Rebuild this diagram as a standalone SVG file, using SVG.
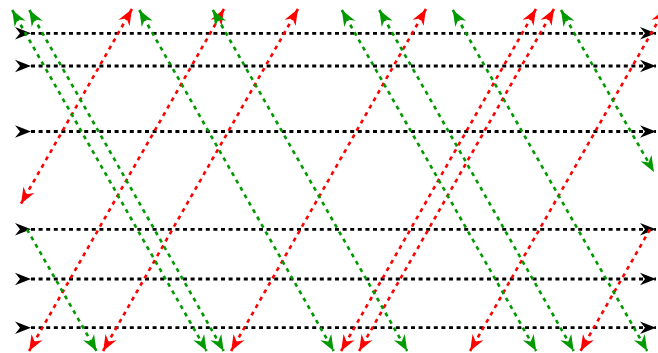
<svg xmlns="http://www.w3.org/2000/svg" width="658" height="353" viewBox="0 0 658 353">
<style>
.bk{stroke:#000;stroke-width:2.8;stroke-dasharray:4 3.6;fill:none;marker-start:url(#mb);marker-end:url(#mb)}
.rd{stroke:#ff0000;stroke-width:2.6;stroke-dasharray:4 4.5;fill:none;marker-end:url(#mr)}
.gn{stroke:#009900;stroke-width:2.6;stroke-dasharray:4 4.5;fill:none;marker-end:url(#mg)}
.both.rd{marker-start:url(#mr)}
.both.gn{marker-start:url(#mg)}
</style>
<defs>
<marker id="mb" markerUnits="userSpaceOnUse" viewBox="-17 -8 18 16" markerWidth="18" markerHeight="16" refX="0" refY="0" orient="auto" overflow="visible"><path d="M0,0 L-16,-6.3 L-11,0 L-16,6.3 Z" fill="#000"/></marker>
<marker id="mr" markerUnits="userSpaceOnUse" viewBox="-17 -8 18 16" markerWidth="18" markerHeight="16" refX="0" refY="0" orient="auto-start-reverse" overflow="visible"><path d="M0,0 L-16,-6.3 L-11,0 L-16,6.3 Z" fill="#ff0000"/></marker>
<marker id="mg" markerUnits="userSpaceOnUse" viewBox="-17 -8 18 16" markerWidth="18" markerHeight="16" refX="0" refY="0" orient="auto-start-reverse" overflow="visible"><path d="M0,0 L-16,-6.3 L-11,0 L-16,6.3 Z" fill="#009900"/></marker>
</defs>
<rect width="658" height="353" fill="#fff"/>
<g id="black-lines">
<path class="bk" d="M31,33.3 H656"/>
<path class="bk" d="M31,66 H656"/>
<path class="bk" d="M31,131.5 H656"/>
<path class="bk" d="M31,229.3 H656"/>
<path class="bk" d="M31,279 H656"/>
<path class="bk" d="M31,327.7 H656"/>
</g>
<g id="red-signals">
<path class="rd both" d="M132,9 L21,203.7"/>
<path class="rd both" d="M224,9 L29.1,351"/>
<path class="rd both" d="M298,9 L103.1,351"/>
<path class="rd both" d="M426,9 L231.1,351"/>
<path class="rd both" d="M536,9 L341.1,351"/>
<path class="rd both" d="M554,9 L359.1,351"/>
<path class="rd both" d="M665,9 L470.1,351"/>
<path class="rd" d="M650,229.3 L580.5,351"/>
</g>
<g id="green-signals">
<path class="gn both" d="M12.2,10 L206.6,351"/>
<path class="gn both" d="M29.3,10 L223.7,351"/>
<path class="gn both" d="M139.3,10 L333.7,351"/>
<path class="gn both" d="M212.8,10 L407.2,351"/>
<path class="gn both" d="M341.8,10 L536.2,351"/>
<path class="gn both" d="M379.3,10 L573.7,351"/>
<path class="gn both" d="M452.8,10 L647.2,351"/>
<path class="gn both" d="M561,10 L654,172"/>
<path class="gn" d="M27,229.3 L96.5,351"/>
</g>
</svg>
